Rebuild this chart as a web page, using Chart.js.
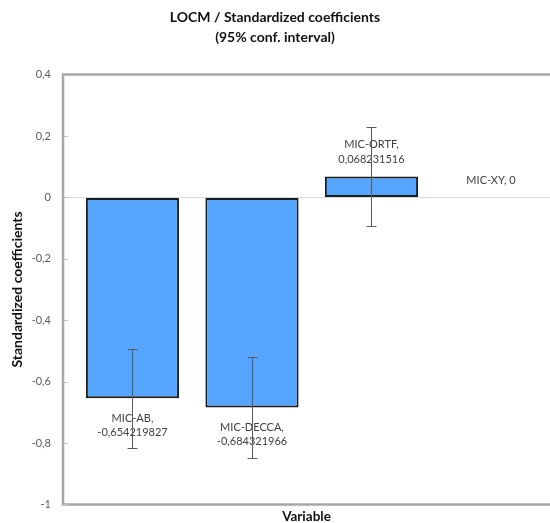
<!DOCTYPE html>
<html>
<head>
<meta charset="utf-8">
<script src="https://cdn.jsdelivr.net/npm/chart.js@4/dist/chart.umd.min.js"></script>
<style>
  html, body { margin: 0; padding: 0; background: #fff; overflow: hidden; }
  #wrap { width: 550px; height: 523px; }
</style>
</head>
<body>
<div id="wrap"><canvas id="myChart"></canvas></div>
<script>
const variables = ['MIC-AB', 'MIC-DECCA', 'MIC-ORTF', 'MIC-XY'];
const coefficients = [-0.654219827, -0.684321966, 0.068231516, 0];
// half width of the 95% confidence interval
const ciHalfWidth = [0.161, 0.163, 0.162, 0];
const yTicks = [0.4, 0.2, 0, -0.2, -0.4, -0.6, -0.8, -1];

const fmt = v => String(v).replace('.', ',');

Chart.defaults.font.family = 'Lato, "Open Sans", sans-serif';

// plot frame, confidence intervals and value labels
const overlay = {
  id: 'overlay',
  afterDatasetsDraw(chart) {
    const { ctx, chartArea: a, scales: { y } } = chart;
    const bars = chart.getDatasetMeta(0).data;
    ctx.save();

    ctx.strokeStyle = '#a6a6a6';
    ctx.lineWidth = 2.5;
    ctx.beginPath();
    ctx.moveTo(a.right + 5, a.top);
    ctx.lineTo(a.left, a.top);
    ctx.lineTo(a.left, a.bottom);
    ctx.lineTo(a.right + 5, a.bottom);
    ctx.stroke();

    // small tick marks just inside the left axis
    ctx.lineWidth = 1;
    ctx.strokeStyle = '#bfbfbf';
    ctx.beginPath();
    yTicks.forEach(v => {
      const ty = Math.round(y.getPixelForValue(v)) + 0.5;
      ctx.moveTo(a.left, ty);
      ctx.lineTo(a.left + 5, ty);
    });
    ctx.stroke();

    ctx.font = '11px Lato, "Open Sans", sans-serif';
    ctx.fillStyle = '#404040';
    ctx.textAlign = 'center';
    ctx.textBaseline = 'middle';
    bars.forEach((bar, i) => {
      const v = coefficients[i];
      const full = variables[i] + ', ' + fmt(v);
      const lines = ctx.measureText(full).width > bar.width
        ? [variables[i] + ',', fmt(v)]
        : [full];
      const end = y.getPixelForValue(v);
      lines.forEach((t, j) => {
        const ty = v < 0
          ? end + 20 + j * 14
          : end - 16.5 - (lines.length - 1 - j) * 15;
        ctx.fillText(t, bar.x, ty);
      });
    });

    ctx.strokeStyle = '#5a5a5a';
    ctx.lineWidth = 1;
    bars.forEach((bar, i) => {
      if (!ciHalfWidth[i]) return;
      const x = Math.round(bar.x) + 0.5;
      const top = Math.round(y.getPixelForValue(coefficients[i] + ciHalfWidth[i])) + 0.5;
      const bot = Math.round(y.getPixelForValue(coefficients[i] - ciHalfWidth[i])) + 0.5;
      ctx.beginPath();
      ctx.moveTo(x, top); ctx.lineTo(x, bot);
      ctx.moveTo(x - 5, top); ctx.lineTo(x + 5, top);
      ctx.moveTo(x - 5, bot); ctx.lineTo(x + 5, bot);
      ctx.stroke();
    });
    ctx.restore();
  }
};

const ctx = document.getElementById('myChart').getContext('2d');

const chart = new Chart(ctx, {
  type: 'bar',
  data: {
    datasets: [{
      label: 'Standardized coefficients',
      data: coefficients.map((v, i) => ({ x: i, y: v })),
      backgroundColor: '#55a5ff',
      borderColor: '#1c1c1c',
      borderWidth: c => (c.parsed && c.parsed.y === 0 ? 0 : 2),
      borderSkipped: false,
      categoryPercentage: 1,
      barPercentage: 0.78
    }]
  },
  options: {
    responsive: true,
    maintainAspectRatio: false,
    animation: false,
    layout: { padding: { left: 0, right: 0, top: 0, bottom: 0 } },
    plugins: {
      legend: { display: false },
      tooltip: { enabled: false },
      title: {
        display: true,
        text: ['LOCM / Standardized coefficients', '(95% conf. interval)'],
        color: '#111',
        font: { size: 14, weight: 'bold', lineHeight: 1.45 },
        padding: { top: 7, bottom: 27 }
      }
    },
    scales: {
      x: {
        type: 'linear',
        offset: false,
        min: -0.5816,
        max: 3.494,
        afterBuildTicks: s => { s.ticks = variables.map((_, i) => ({ value: i })); },
        ticks: { display: false },
        grid: { display: false, drawTicks: false },
        border: { display: false },
        title: {
          display: true,
          text: 'Variable',
          color: '#111',
          font: { size: 13.5, weight: 'bold', lineHeight: 1 },
          padding: { top: 5, bottom: 0 }
        }
      },
      y: {
        min: -1,
        max: 0.4,
        afterBuildTicks: s => { s.ticks = yTicks.map(v => ({ value: v })); },
        afterFit: s => { s.width = 63; },
        grid: {
          drawTicks: false,
          color: c => (c.tick && c.tick.value === 0 ? '#d9d9d9' : 'rgba(0,0,0,0)')
        },
        border: { display: false },
        ticks: {
          padding: 12,
          color: '#595959',
          font: { size: 11 },
          callback: v => fmt(v)
        },
        title: {
          display: true,
          text: 'Standardized coefficients',
          color: '#111',
          font: { size: 14, weight: 'bold' },
          padding: { top: 9, bottom: 0 }
        }
      }
    }
  },
  plugins: [overlay]
});
</script>
</body>
</html>
